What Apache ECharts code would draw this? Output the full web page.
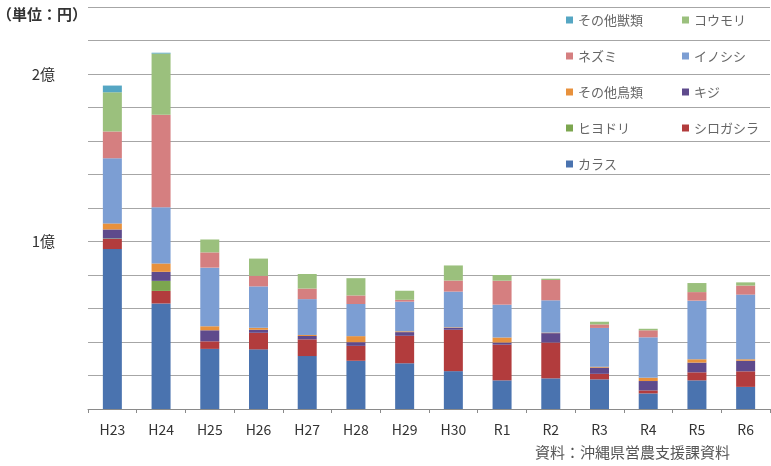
<!DOCTYPE html>
<html>
<head>
<meta charset="utf-8">
<script src="https://cdn.jsdelivr.net/npm/echarts@6/dist/echarts.min.js"></script>
<style>
  html, body { margin: 0; padding: 0; background: #fff; }
  #chart { width: 771px; height: 466px; }
</style>
</head>
<body>
<div id="chart"></div>
<script>
// 年度
const years = ['H23', 'H24', 'H25', 'H26', 'H27', 'H28', 'H29', 'H30', 'R1', 'R2', 'R3', 'R4', 'R5', 'R6'];

// 被害額（百万円）
const karasu      = [95.5, 63.0, 35.9, 35.6, 31.6, 28.8, 27.3, 22.6, 17.1, 18.3, 17.7,  9.3, 17.1, 13.2];
const shirogashira= [ 6.0,  7.5,  4.5,  9.9, 10.0,  8.9, 16.4, 24.7, 21.3, 21.4,  3.3,  1.8,  4.8,  9.3];
const hiyodori    = [ 0.3,  6.0,  0.0,  0.0,  0.0,  0.0,  0.0,  0.0,  0.0,  0.0,  0.0,  0.0,  0.0,  0.0];
const kiji        = [ 5.4,  5.4,  6.6,  1.8,  2.0,  2.2,  2.2,  1.2,  1.3,  5.6,  3.7,  5.6,  5.8,  6.3];
const sonotaChorui= [ 3.6,  5.0,  2.4,  1.2,  0.6,  3.6,  0.5,  0.3,  3.0,  0.3,  0.5,  2.0,  2.0,  0.9];
const inoshishi   = [38.9, 33.5, 35.0, 24.7, 21.4, 19.2, 17.7, 21.3, 19.6, 19.3, 23.2, 24.1, 35.0, 38.6];
const nezumi      = [16.0, 55.3,  9.1,  6.3,  6.3,  5.1,  1.1,  6.6, 14.3, 12.1,  2.1,  4.2,  5.1,  5.4];
const koumori     = [23.4, 36.5,  7.7, 10.3,  8.7, 10.3,  5.4,  9.0,  3.4,  0.8,  1.6,  0.9,  5.4,  1.9];
const sonotaJurui = [ 4.0,  0.5,  0.0,  0.0,  0.0,  0.0,  0.0,  0.0,  0.0,  0.0,  0.0,  0.0,  0.0,  0.0];

const UNIT = 1e6; // 百万円 → 円

// 目盛り
const yMax = 240000000;
const yStep = 20000000;
const yTickLabels = { 100000000: '1億', 200000000: '2億' };

// 積み上げ順（下から）
const seriesDefs = [
  { name: 'カラス',     data: karasu,       color: '#4A73AF' },
  { name: 'シロガシラ', data: shirogashira, color: '#B23C3D' },
  { name: 'ヒヨドリ',   data: hiyodori,     color: '#7CA64F' },
  { name: 'キジ',       data: kiji,         color: '#5E4A8C' },
  { name: 'その他鳥類', data: sonotaChorui, color: '#E8913C' },
  { name: 'イノシシ',   data: inoshishi,    color: '#7C9ED3' },
  { name: 'ネズミ',     data: nezumi,       color: '#D57F80' },
  { name: 'コウモリ',   data: koumori,      color: '#9BC07D' },
  { name: 'その他獣類', data: sonotaJurui,  color: '#55A6C3' }
];

const legendCol1 = ['その他獣類', 'ネズミ', 'その他鳥類', 'ヒヨドリ', 'カラス'];
const legendCol2 = ['コウモリ', 'イノシシ', 'キジ', 'シロガシラ'];

const FONT = '"Noto Sans CJK JP", "Liberation Sans", sans-serif';

const legendBase = {
  orient: 'vertical',
  top: 6,
  itemWidth: 7,
  itemHeight: 7,
  itemGap: 18,
  icon: 'rect',
  textStyle: { fontFamily: FONT, fontSize: 13, color: '#666', lineHeight: 18 }
};

const chart = echarts.init(document.getElementById('chart'), null, { renderer: 'canvas' });

chart.setOption({
  animation: false,
  textStyle: { fontFamily: FONT },
  grid: { left: 88, right: 1, top: 7, bottom: 57, containLabel: false },
  legend: [
    Object.assign({}, legendBase, { left: 561, data: legendCol1 }),
    Object.assign({}, legendBase, { left: 677, data: legendCol2 })
  ],
  xAxis: {
    type: 'category',
    data: years,
    axisLine: { lineStyle: { color: '#8a8a8a', width: 1 } },
    axisTick: { show: true, length: 4, lineStyle: { color: '#8a8a8a' } },
    axisLabel: { fontFamily: FONT, fontSize: 14, color: '#333', margin: 14 }
  },
  yAxis: {
    type: 'value',
    min: 0,
    max: yMax,
    interval: yStep,
    axisLine: { show: false },
    axisTick: { show: false },
    splitLine: { lineStyle: { color: '#a6a6a6', width: 1 } },
    axisLabel: {
      fontFamily: FONT, fontSize: 15, color: '#333', margin: 33,
      formatter: v => yTickLabels[v] || ''
    }
  },
  graphic: [
    {
      type: 'text', left: -3, top: 7,
      style: { text: '（単位：円）', fontFamily: FONT, fontSize: 15, fontWeight: 'bold', fill: '#333' }
    },
    {
      type: 'text', left: 535, top: 445,
      style: { text: '資料：沖縄県営農支援課資料', fontFamily: FONT, fontSize: 15, fill: '#555' }
    }
  ],
  series: seriesDefs.map(s => ({
    name: s.name,
    type: 'bar',
    stack: 'total',
    barWidth: 19,
    itemStyle: { color: s.color },
    data: s.data.map(v => v * UNIT)
  }))
});
</script>
</body>
</html>
